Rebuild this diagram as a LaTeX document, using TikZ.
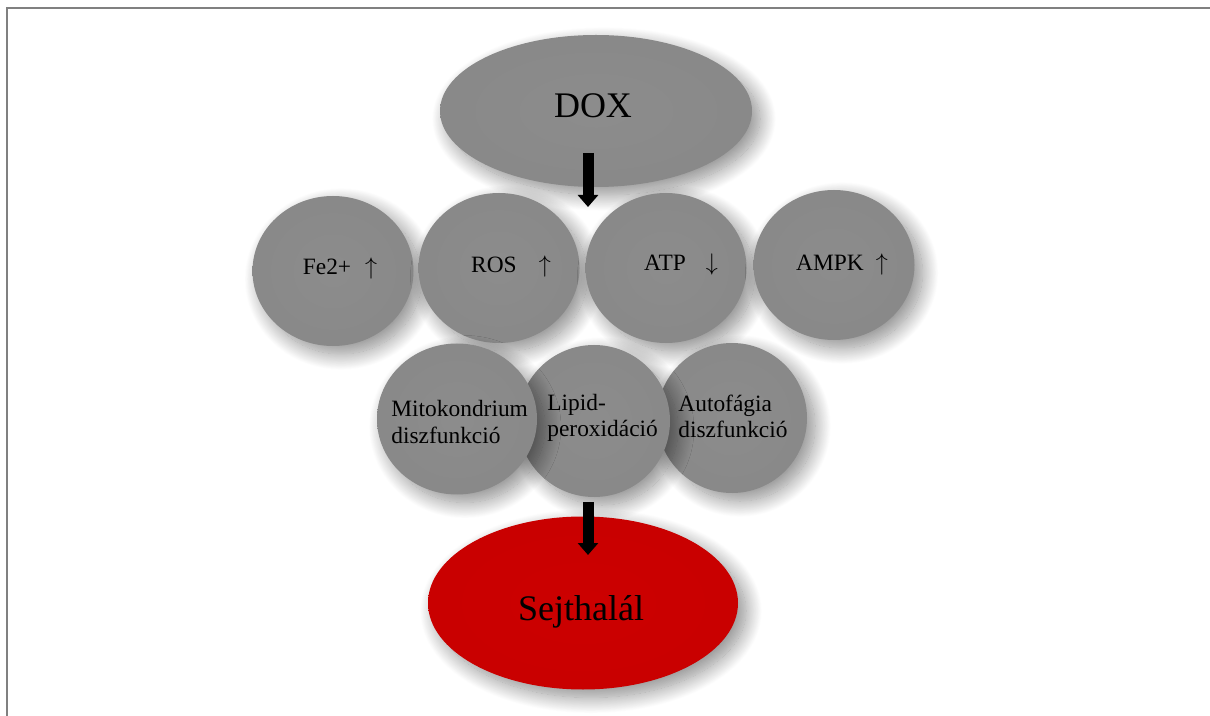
\documentclass[tikz,border=0pt]{standalone}
\usepackage{fontspec}
\setmainfont{Liberation Serif}
\usetikzlibrary{shapes.geometric,shadows.blur,arrows.meta}

\pgfdeclareradialshading{graybevel}{\pgfpoint{0bp}{0bp}}{%
  rgb(0bp)=(0.55,0.55,0.55); rgb(36bp)=(0.53,0.53,0.53);
  rgb(45bp)=(0.42,0.42,0.42); rgb(48.5bp)=(0.50,0.50,0.50);
  rgb(50bp)=(0.85,0.85,0.85)}
\pgfdeclareradialshading{redbevel}{\pgfpoint{0bp}{0bp}}{%
  rgb(0bp)=(0.80,0,0); rgb(40bp)=(0.78,0,0);
  rgb(47bp)=(0.62,0,0); rgb(49bp)=(0.76,0.05,0.05);
  rgb(50bp)=(0.92,0.45,0.45)}

\begin{document}
\begin{tikzpicture}[x=0.5pt, y=-0.5pt,
    ball/.style={ellipse, inner sep=0pt, minimum width=80.5pt, minimum height=75pt,
      shading=graybevel,
      blur shadow={shadow xshift=4pt, shadow yshift=-4pt, shadow blur radius=8pt,
        shadow blur steps=24, shadow opacity=45}},
    redball/.style={ball, shading=redbevel},
    txt/.style={font=\fontsize{11.7}{13.3}\selectfont, align=left, inner sep=0pt},
    bigtxt/.style={font=\fontsize{18}{21}\selectfont, inner sep=0pt},
    bigarrow/.style={line width=5.5pt, -{Triangle[width=10pt,length=6pt]}}]

	\useasboundingbox (0,0) rectangle (1210,716);
	\draw [gray, line width=1pt] (7,716) -- (7,8.5) -- (1210,8.5);

	% top
	\node [ball, minimum width=156pt, minimum height=76pt] (dox) at (596,111) {};

	% first row
	\node [ball] (fe) at (333,271) {};
	\node [ball] (ros) at (499,268) {};
	\node [ball] (atp) at (666,268) {};
	\node [ball] (ampk) at (834,265) {};

	% second row (right one at the back)
	\node [ball, minimum width=75pt, minimum height=75pt] (auto) at (732,418) {};
	\node [ball, minimum width=76pt, minimum height=76pt] (lipid) at (594,421) {};
	\node [ball, minimum width=80pt, minimum height=75.5pt] (mito) at (457,419) {};

	% bottom
	\node [redball, minimum width=155pt, minimum height=86.5pt] (death) at (583,603) {};

	% texts
	\node [bigtxt, anchor=base] (doxtxt) at (593,118) {DOX};
	\node [txt, anchor=base] (fetxt) at (340,275) {Fe2+\hspace{7pt}$\uparrow$};
	\node [txt, anchor=base] (rostxt) at (511,273) {ROS\hspace{11pt}$\uparrow$};
	\node [txt, anchor=base] (atptxt) at (681,271) {ATP\hspace{10pt}$\downarrow$};
	\node [txt, anchor=base] (ampktxt) at (842,271) {AMPK\hspace{6pt}$\uparrow$};
	\node [txt, anchor=west] (mitotxt) at (391,422) {Mitokondrium\\diszfunkció};
	\node [txt, anchor=west] (lipidtxt) at (547,418) {Lipid-\\peroxidáció};
	\node [txt, anchor=west] (autotxt) at (678,416.5) {Autofágia\\diszfunkció};
	\node [bigtxt, anchor=base] (deathtxt) at (581,620) {Sejthalál};

	% arrows
	\coordinate (dstart) at (588,153);
	\coordinate (dend) at (588,207);
	\coordinate (lstart) at (588,502);
	\coordinate (lend) at (588,555);
	\draw [bigarrow] (dstart) -- (dend);
	\draw [bigarrow] (lstart) -- (lend);

\end{tikzpicture}
\end{document}
